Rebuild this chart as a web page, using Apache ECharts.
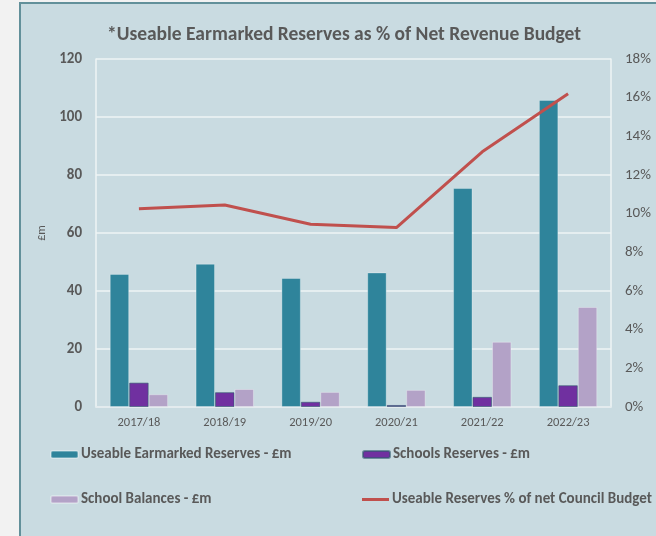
<!DOCTYPE html>
<html>
<head>
<meta charset="utf-8">
<script src="https://cdn.jsdelivr.net/npm/echarts@6/dist/echarts.min.js"></script>
<style>
html,body{margin:0;padding:0;background:#f2f2f2;}
#c{width:656px;height:536px;}
</style>
</head>
<body>
<div id="c"></div>
<script>
const categories = ['2017/18','2018/19','2019/20','2020/21','2021/22','2022/23'];
const earmarked = [45.9, 49.4, 44.5, 46.4, 75.5, 105.9];
const schoolsReserves = [8.4, 5.1, 1.8, 0.7, 3.5, 7.5];
const schoolBalances = [4.4, 6.2, 5.2, 5.9, 22.5, 34.5];
const reservesPct = [10.25, 10.45, 9.45, 9.28, 13.2, 16.2];
const leftTicks = {min: 0, max: 120, interval: 20};
const rightTicks = {min: 0, max: 18, interval: 2};

const FONT = "Carlito, Lato, sans-serif";
const chart = echarts.init(document.getElementById('c'), null, {renderer: 'canvas'});
const legendText = {color: '#595959', fontSize: 15, fontWeight: 'bold', fontFamily: FONT, padding: [0,0,0,-2]};
function leg(name, left, top, extra) {
  const o = {data: [{name: name}], left: left, top: top, itemWidth: 27, itemHeight: 7, textStyle: legendText, selectedMode: false, padding: 0};
  return Object.assign(o, extra || {});
}
chart.setOption({
  backgroundColor: 'transparent',
  graphic: [{type: 'rect', z: -10, shape: {x: 20, y: 3, width: 700, height: 600}, style: {fill: '#c9dbe1', stroke: '#62909a', lineWidth: 2}}],
  title: {text: '*Useable Earmarked Reserves as % of Net Revenue Budget', left: 339, textAlign: 'center', top: 20,
    textStyle: {color: '#595959', fontSize: 19.5, fontWeight: 'bold', fontFamily: FONT}},
  legend: [
    leg('Useable Earmarked Reserves - £m', 50, 447),
    leg('Schools Reserves - £m', 362, 447),
    leg('School Balances - £m', 50, 492),
    leg('Useable Reserves % of net Council Budget', 362, 492, {itemHeight: 3, data: [{name: 'Useable Reserves % of net Council Budget', icon: 'rect'}]})
  ],
  grid: {left: 96, right: 45, top: 59, bottom: 129, containLabel: false},
  xAxis: {type: 'category', data: categories,
    axisLine: {lineStyle: {color: '#e2eaed', width: 1.5}}, axisTick: {show: false},
    axisLabel: {color: '#595959', fontSize: 12.5, fontFamily: FONT, margin: 9}},
  yAxis: [
    {type: 'value', min: leftTicks.min, max: leftTicks.max, interval: leftTicks.interval,
      name: '£m', nameLocation: 'middle', nameGap: 48, nameRotate: 90,
      nameTextStyle: {color: '#595959', fontSize: 12, fontFamily: FONT},
      axisLine: {show: true, lineStyle: {color: '#eef4f5', width: 1.5}}, axisTick: {show: false},
      splitLine: {lineStyle: {color: '#eef4f5', width: 1.5}},
      axisLabel: {color: '#595959', fontSize: 15, fontWeight: 'bold', fontFamily: FONT, margin: 14}},
    {type: 'value', min: rightTicks.min, max: rightTicks.max, interval: rightTicks.interval,
      axisLine: {show: true, lineStyle: {color: '#eef4f5', width: 1.5}}, axisTick: {show: false},
      splitLine: {show: false},
      axisLabel: {color: '#595959', fontSize: 15, fontFamily: FONT, margin: 14, formatter: '{value}%'}}
  ],
  series: [
    {name: 'Useable Earmarked Reserves - £m', type: 'bar', data: earmarked, barGap: '0%', barCategoryGap: '32%',
      itemStyle: {color: '#2f849b', borderColor: 'rgba(255,255,255,0.3)', borderWidth: 1}},
    {name: 'Schools Reserves - £m', type: 'bar', data: schoolsReserves,
      itemStyle: {color: '#7030a0', borderColor: 'rgba(47,90,110,0.6)', borderWidth: 1}},
    {name: 'School Balances - £m', type: 'bar', data: schoolBalances,
      itemStyle: {color: '#b3a2c7', borderColor: 'rgba(255,255,255,0.3)', borderWidth: 1}},
    {name: 'Useable Reserves % of net Council Budget', type: 'line', yAxisIndex: 1, data: reservesPct,
      symbol: 'none', lineStyle: {color: '#c0504d', width: 3}, itemStyle: {color: '#c0504d'}}
  ]
});
</script>
</body>
</html>
